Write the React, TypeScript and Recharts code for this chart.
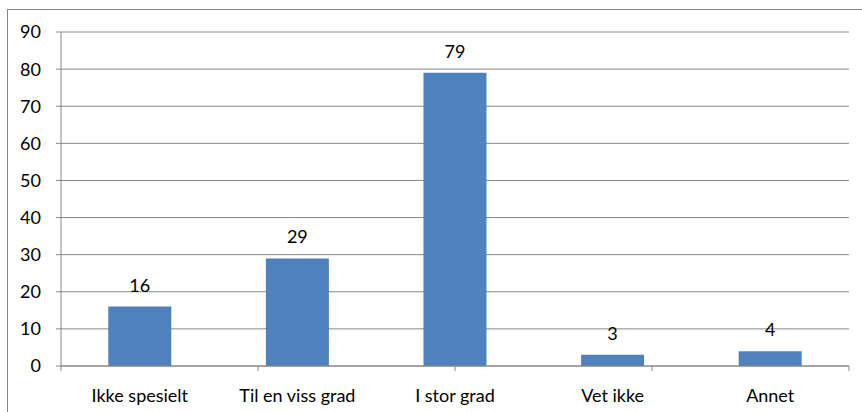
import React from "react";
import {
  BarChart,
  Bar,
  XAxis,
  YAxis,
  CartesianGrid,
  LabelList,
} from "recharts";

const categories = ["Ikke spesielt", "Til en viss grad", "I stor grad", "Vet ikke", "Annet"];
const counts = [16, 29, 79, 3, 4];
const yTicks = [0, 10, 20, 30, 40, 50, 60, 70, 80, 90];
const edgeTicks = [0, 1, 2, 3, 4, 5];

const data = categories.map((name, i) => ({ name, value: counts[i] }));

const FONT = "Lato, 'Open Sans', sans-serif";
const GRAY = "#868686";

export default function App() {
  return (
    <div style={{ position: "absolute", left: 0, top: 0, width: 862, height: 412, overflow: "hidden", background: "#fff" }}>
      <style>{"body{margin:0}"}</style>
      <div
        style={{
          position: "absolute",
          left: 7,
          top: 9,
          width: 1000,
          height: 1000,
          border: `1px solid ${GRAY}`,
        }}
      />
      <div style={{ position: "absolute", left: 0, top: 0 }}>
        <BarChart
          width={862}
          height={412}
          data={data}
          margin={{ top: 32, right: 13, bottom: 15, left: 0 }}
          barCategoryGap="30%"
          style={{ fontFamily: FONT }}
        >
          <CartesianGrid vertical={false} stroke={GRAY} strokeWidth={1} />
          {/* tick marks sit on the category boundaries, like Excel */}
          <XAxis
            xAxisId="a"
            type="number"
            domain={[0, 5]}
            allowDataOverflow
            ticks={edgeTicks}
            height={1}
            tick={{ fill: "none", fontSize: 1 }}
            tickFormatter={() => ""}
            axisLine={{ stroke: GRAY }}
            tickLine={{ stroke: GRAY }}
            tickSize={5}
          />
          <XAxis
            xAxisId="b"
            dataKey="name"
            height={30}
            axisLine={false}
            tickLine={false}
            tickSize={5}
            tickMargin={17}
            interval={0}
            tick={{ fontSize: 18, fill: "#000", fontFamily: FONT }}
          />
          <YAxis
            width={61}
            domain={[0, 90]}
            ticks={yTicks}
            interval={0}
            axisLine={{ stroke: GRAY }}
            tickLine={{ stroke: GRAY }}
            tickSize={5}
            tickMargin={15}
            tick={{ fontSize: 18, fill: "#000", fontFamily: FONT }}
          />
          <Bar xAxisId="b" dataKey="value" fill="#4F81BD" isAnimationActive={false}>
            <LabelList
              dataKey="value"
              position="top"
              offset={15}
              style={{ fontSize: 18, fill: "#000", fontFamily: FONT }}
            />
          </Bar>
        </BarChart>
      </div>
    </div>
  );
}
